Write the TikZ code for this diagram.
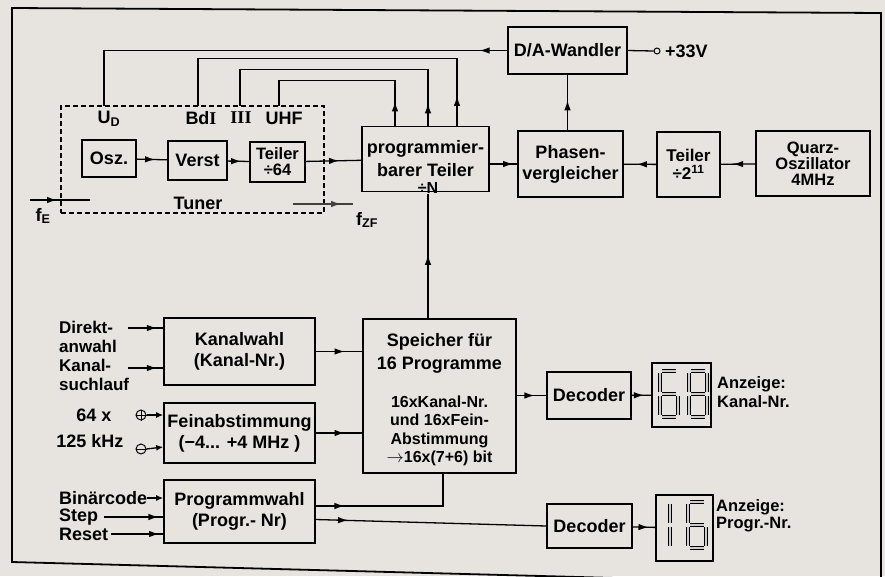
\documentclass[tikz,border=0pt]{standalone}
\usepackage{fontspec}
\setmainfont{Liberation Sans}
\newfontfamily\romfont{Liberation Serif}
\usetikzlibrary{arrows.meta,decorations.markings}
\definecolor{paper}{RGB}{231,227,222}

\begin{document}
\begin{tikzpicture}[x=1pt, y=-1pt,
    font=\fontsize{18}{21}\selectfont\bfseries,
    box/.style={draw, line width=1.6pt, align=center, inner sep=1pt},
    wire/.style={line width=1.3pt},
    midarrow/.style={postaction={decorate}, decoration={markings,
        mark=at position #1 with {\arrow{Latex[length=10pt,width=6.5pt]}}}},
    midarrow/.default=0.5,
    inarrow/.style={-{Latex[length=7pt,width=6pt]}},
    lbl/.style={align=left, inner sep=0pt},
    pm/.style={circle, draw, line width=1pt, inner sep=0pt, minimum size=10pt},
    seg/.style={line width=0.9pt, double=black!20, double distance=1.4pt,
                shorten <=2pt, shorten >=2pt},
    sevenseg/.pic={
      \coordinate (-tl) at (0,0);  \coordinate (-tr) at (18,0);
      \coordinate (-ml) at (0,23); \coordinate (-mr) at (18,23);
      \coordinate (-bl) at (0,46); \coordinate (-br) at (18,46);
    }
  ]
  \useasboundingbox (0,0) rectangle (885,576);
  \clip (0,0) rectangle (885,576);
  \fill[paper] (0,0) rectangle (885,576);
  \draw[line width=1.8pt] (12,8) -- (881,13) -- (881,585) -- (12,562) -- cycle;

  % --- Tuner and PLL chain ---------------------------------------------------
  \node[draw, dashed, line width=1.3pt, dash pattern=on 5pt off 3pt,
        minimum width=263pt, minimum height=107pt] (tuner) at (192.5,159.5) {};
  \node (tunlbl) at (198,203) {Tuner};

  \node[box, minimum width=54pt, minimum height=37pt] (osz)   at (109,158.5) {Osz.};
  \node[box, minimum width=59pt, minimum height=39pt] (verst) at (197.5,160.5) {Verst};
  \node[box, minimum width=55pt, minimum height=40pt,
        font=\fontsize{16.5}{16}\selectfont\bfseries] (teil64) at (277.5,162) {Teiler\\÷64};
  \node[box, minimum width=127pt, minimum height=65pt,
        font=\fontsize{18}{23}\selectfont\bfseries] (pteil) at (425.5,159)
    {programmier-\\barer Teiler};
  \node[font=\fontsize{16}{16}\selectfont\bfseries, anchor=south, inner sep=0.5pt]
    (durchn) at (428,194) {÷N};
  \node[box, minimum width=119pt, minimum height=47pt] (dac)   at (567.5,50.5) {D/A-Wandler};
  \node[box, minimum width=105pt, minimum height=66pt] (phase) at (570.5,164) {Phasen-\\vergleicher};
  \node[box, minimum width=63pt, minimum height=65pt,
        font=\fontsize{17}{18}\selectfont\bfseries] (teil2) at (688.5,164.5)
    {Teiler\\÷2\textsuperscript{11}};
  \node[box, minimum width=114pt, minimum height=65pt,
        font=\fontsize{16.5}{16}\selectfont\bfseries] (quarz) at (813,163.5)
    {Quarz-\\Oszillator\\4MHz};
  \node[pm, minimum size=6pt] (v33) at (657,51) {};
  \node[anchor=west, inner sep=0pt] (u33) at (665,51) {+33V};

  \draw[wire, midarrow=0.6]  (osz) -- (verst);
  \draw[wire, midarrow=0.62] (verst) -- (teil64);
  \draw[wire, midarrow=0.6]  (teil64) -- (pteil);
  \draw[wire, midarrow=0.85] (pteil.east |- phase.west) -- (phase.west);
  \draw[wire, midarrow=0.6]  (teil2) -- (phase);
  \draw[wire, midarrow=0.64] (quarz) -- (teil2);
  \draw[wire, midarrow=0.54] (dac.south |- phase.north) -- (dac.south);
  \draw[wire] (dac.east) -- (v33.west);

  % tuner inputs from above
  \coordinate (udpin)  at (104,106);
  \coordinate (bdpin)  at (198,106);
  \coordinate (iiipin) at (240,106);
  \coordinate (uhfpin) at (279,106);
  \node (ud)  at (109,119) {U\textsubscript{D}};
  \node (bd)  at (201,118) {Bd{\romfont I}};
  \node (iii) at (241,118) {{\romfont III}};
  \node (uhf) at (284,118) {UHF};

  \draw[wire, midarrow=0.06] (dac.west) -| (udpin);
  \draw[wire, midarrow=0.08] ([xshift=31.5pt]pteil.north) -- ++(0,-67) -| (bdpin);
  \draw[wire, midarrow=0.08] ([xshift=2.5pt]pteil.north)  -- ++(0,-56) -| (iiipin);
  \draw[wire, midarrow=0.13] ([xshift=-30.5pt]pteil.north) -- ++(0,-45) -| (uhfpin);

  \coordinate (fEa) at (30,200);  \coordinate (fEb) at (90,200);
  \coordinate (fZa) at (293,204); \coordinate (fZb) at (353,204);
  \draw[wire, midarrow=0.45] (fEa) -- (fEb);
  \draw[wire, black!75, midarrow=0.8] (fZa) -- (fZb);
  \node (fE) at (43,216) {f\textsubscript{E}};
  \node (fZ) at (367,220) {f\textsubscript{ZF}};

  % --- Control part ------------------------------------------------------------
  \node[box, minimum width=151pt, minimum height=67pt] (kanal) at (239.5,351.5)
    {Kanalwahl\\(Kanal-Nr.)};
  \node[box, minimum width=151pt, minimum height=60pt] (fein) at (239.5,433)
    {Feinabstimmung\\(−4... +4 MHz )};
  \node[box, minimum width=151pt, minimum height=63pt] (progw) at (239.5,511.5)
    {Programmwahl\\(Progr.- Nr)};
  \node[box, minimum width=153pt, minimum height=154pt] (speich) at (439.5,396) {};
  \node[font=\fontsize{18}{23}\selectfont\bfseries, align=center] (speichA) at (439.5,353)
    {Speicher für\\16 Programme};
  \node[font=\fontsize{16}{18.5}\selectfont\bfseries, align=center] (speichB) at (439.5,431)
    {16xKanal-Nr.\\und 16xFein-\\Abstimmung\\$\rightarrow$16x(7+6) bit};

  \draw[wire, midarrow=0.51] (durchn.south |- speich.north) -- (durchn.south);
  \draw[wire, midarrow=0.62] (kanal.east) -- (kanal.east -| speich.west);
  \draw[wire, midarrow=0.62] (fein.east) -- (fein.east -| speich.west);
  \draw[wire, midarrow=0.18] ([yshift=5.5pt]progw.east) -| ([xshift=3.5pt]speich.south);

  % left hand inputs
  \node[lbl, font=\fontsize{17}{19.5}\selectfont\bfseries, anchor=west] (direkt) at (59,337)
    {Direkt-\\anwahl};
  \node[lbl, font=\fontsize{17}{19.5}\selectfont\bfseries, anchor=west] (suchl) at (59,375)
    {Kanal-\\suchlauf};
  \coordinate (dwa) at (128,328);
  \coordinate (ksa) at (128,368);
  \draw[wire, midarrow=0.82] (dwa) -- (dwa -| kanal.west);
  \draw[wire, midarrow=0.82] (ksa) -- (ksa -| kanal.west);

  \node (x64)  at (94,415) {64 x};
  \node (khz)  at (90,441) {125 kHz};
  \node[pm] (plus)  at (141,415) {};
  \node[pm] (minus) at (141,449) {};
  \draw[line width=1pt] (plus.north) -- (plus.south) (plus.west) -- (plus.east);
  \draw[line width=1pt] (minus.west) -- (minus.east);
  \draw[wire, inarrow] (plus.east) -- (plus.east -| fein.west);
  \draw[wire, inarrow] (minus.east) -- ([yshift=2pt]fein.west |- minus.east);

  \node[lbl, anchor=west] (binaer) at (59,498) {Binärcode};
  \node[lbl, anchor=west] (stepl)  at (59,517) {Step};
  \node[lbl, anchor=west] (resetl) at (59,534) {Reset};
  \draw[wire, inarrow] (binaer.east) -- (binaer.east -| progw.west);
  \draw[wire, midarrow=0.92] ([xshift=6pt]stepl.east) -- (stepl.east -| progw.west);
  \draw[wire, midarrow=0.92] ([xshift=3pt]resetl.east) -- (resetl.east -| progw.west);

  % --- Decoders and displays ---------------------------------------------------
  \node[box, minimum width=84pt, minimum height=47pt] (dec1) at (589,395.5) {Decoder};
  \node[box, minimum width=85pt, minimum height=44pt] (dec2) at (589.5,526) {Decoder};
  \node[box, minimum width=59pt, minimum height=64pt] (disp1) at (681.5,395) {};
  \node[box, minimum width=57pt, minimum height=66pt] (disp2) at (684.5,528) {};

  \draw[wire, midarrow=0.6]  (speich.east |- dec1.west) -- (dec1.west);
  \draw[wire, midarrow=0.62] (dec1) -- (disp1);
  \draw[wire, midarrow=0.14] ([yshift=-8pt]progw.east) -- (dec2.west);
  \draw[wire, midarrow=0.7]  (dec2) -- (disp2);

  \pic (dA) at (660,371) {sevenseg};
  \pic (dB) at (689,371) {sevenseg};
  \pic (dC) at (652,502) {sevenseg};
  \pic (dD) at (688,502) {sevenseg};
  \foreach \p/\q in {tl/tr, tl/ml, ml/mr, ml/bl, bl/br, mr/br}
    \draw[seg] (dA-\p) -- (dA-\q);
  \foreach \p/\q in {tl/tr, tr/mr, mr/br, bl/br, ml/bl, tl/ml, ml/mr}
    \draw[seg] (dB-\p) -- (dB-\q);
  \foreach \p/\q in {tr/mr, mr/br}
    \draw[seg] (dC-\p) -- (dC-\q);
  \foreach \p/\q in {tl/tr, tl/ml, ml/mr, ml/bl, bl/br, mr/br}
    \draw[seg] (dD-\p) -- (dD-\q);

  \node[lbl, font=\fontsize{16.5}{19}\selectfont\bfseries, anchor=west] (anz1) at (717,392)
    {Anzeige:\\Kanal-Nr.};
  \node[lbl, font=\fontsize{16.5}{17}\selectfont\bfseries, anchor=west] (anz2) at (716,516)
    {Anzeige:\\Progr.-Nr.};
\end{tikzpicture}
\end{document}
